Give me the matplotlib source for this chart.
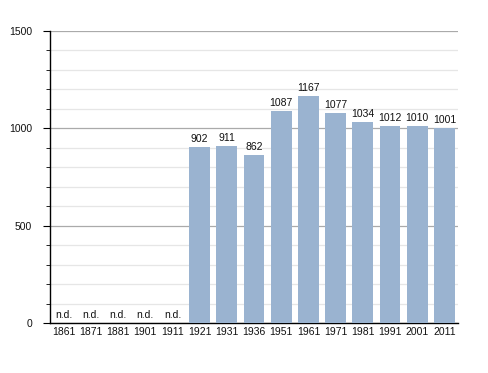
import matplotlib
matplotlib.use("Agg")
import matplotlib.pyplot as plt
from matplotlib.ticker import MultipleLocator

plt.rcParams["font.family"] = ["Liberation Sans", "DejaVu Sans"]

years = ["1861", "1871", "1881", "1901", "1911", "1921", "1931", "1936",
         "1951", "1961", "1971", "1981", "1991", "2001", "2011"]
values = [None, None, None, None, None, 902, 911, 862,
          1087, 1167, 1077, 1034, 1012, 1010, 1001]

fig = plt.figure(figsize=(4.88, 3.73), dpi=100)
ax = fig.add_axes([0.1025, 0.134, 0.836, 0.783])

x = list(range(len(years)))
heights = [v if v is not None else 0 for v in values]
ax.bar(x, heights, width=0.77, color="#9ab3d0", zorder=3)

for xi, v in zip(x, values):
    if v is None:
        ax.text(xi, 15, "n.d.", ha="center", va="bottom", fontsize=7.5, color="#111111", zorder=4)
    else:
        ax.text(xi, v + 15, str(v), ha="center", va="bottom", fontsize=7.5, color="#111111", zorder=4)

ax.set_xlim(-0.5, len(years) - 0.5)
ax.set_ylim(0, 1500)
ax.yaxis.set_major_locator(MultipleLocator(500))
ax.yaxis.set_minor_locator(MultipleLocator(100))
ax.grid(which="major", axis="y", color="#aaaaaa", linewidth=0.9, zorder=1)
ax.grid(which="minor", axis="y", color="#e6e6e6", linewidth=0.9, zorder=1)
ax.set_xticks(x)
ax.set_xticklabels(years)
ax.tick_params(axis="x", length=0, labelsize=7.5, pad=3, labelcolor="#111111")
ax.tick_params(axis="y", which="major", length=5, labelsize=7.5, pad=8, labelcolor="#111111")
ax.tick_params(axis="y", which="minor", length=3)
for s in ["top", "right"]:
    ax.spines[s].set_visible(False)
ax.spines["left"].set_linewidth(1.0)
ax.spines["bottom"].set_linewidth(1.0)

fig.savefig("out.png", dpi=100)
